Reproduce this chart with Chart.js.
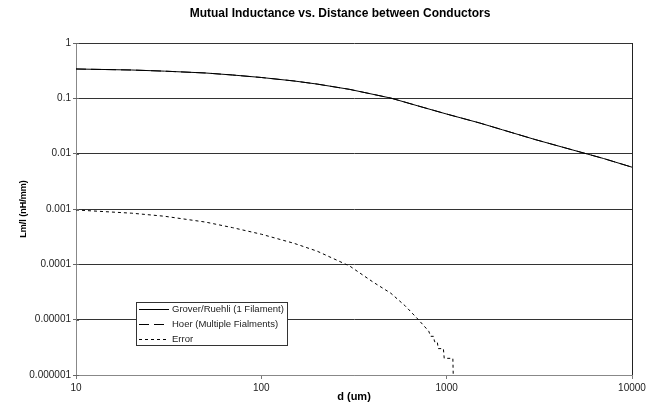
<!DOCTYPE html>
<html>
<head>
<meta charset="utf-8">
<script src="https://cdn.jsdelivr.net/npm/chart.js@4/dist/chart.umd.min.js"></script>
<style>
  html, body { margin: 0; padding: 0; background: #fff; }
  #wrap { width: 658px; height: 406px; }
</style>
</head>
<body>
<div id="wrap"><canvas id="chart" width="658" height="406"></canvas></div>
<script>
const chartTitle = 'Mutual Inductance vs. Distance between Conductors'

// distance d (um) and Lm/l (nH/mm)
const dValues = [10, 20, 30, 50, 70, 100, 150, 200, 300, 500, 700, 1000, 1500, 2000, 3000, 5000, 7000, 10000]
const groverValues = [0.339, 0.325, 0.31, 0.287, 0.264, 0.238, 0.206, 0.181, 0.145, 0.101, 0.073, 0.052, 0.036, 0.027, 0.018, 0.0112, 0.0082, 0.0057]
const hoerValues = [0.339, 0.325, 0.31, 0.287, 0.264, 0.238, 0.206, 0.181, 0.145, 0.101, 0.073, 0.052, 0.036, 0.027, 0.018, 0.0112, 0.0082, 0.0057]

const errorD = [10, 20, 30, 50, 70, 100, 150, 200, 300, 400, 500, 600, 700, 800, 820, 850, 860, 890, 900, 960, 970, 1080, 1085]
const errorValues = [0.00096, 0.00084, 0.00074, 0.00058, 0.00046, 0.00035, 0.00024, 0.000173, 0.000093, 0.000048, 0.00003, 0.0000175, 0.0000102, 0.0000062, 0.000005, 0.000005, 0.000004, 0.000004, 0.000003, 0.000003, 0.000002, 0.000002, 0.000001]

const xTickValues = [10, 100, 1000, 10000]
const xTickLabels = ['10', '100', '1000', '10000']
const yTickValues = [1, 0.1, 0.01, 0.001, 0.0001, 0.00001, 0.000001]
const yTickLabels = ['1', '0.1', '0.01', '0.001', '0.0001', '0.00001', '0.000001']

const FONT = '"Liberation Sans", Arial, sans-serif'

function toPoints(xs, ys) {
  return xs.map((x, i) => ({ x: x, y: ys[i] }))
}

const extras = {
  id: 'extras',
  afterDraw(chart) {
    const ctx = chart.ctx
    const area = chart.chartArea
    ctx.save()

    // right border of plot area
    ctx.strokeStyle = '#222'
    ctx.lineWidth = 1
    ctx.beginPath()
    ctx.moveTo(Math.round(area.right) + 0.5, area.top)
    ctx.lineTo(Math.round(area.right) + 0.5, area.bottom)
    ctx.stroke()

    // y ticks cross the axis a little on the inside too
    const y = chart.scales.y
    ctx.strokeStyle = '#666'
    yTickValues.forEach((v) => {
      const py = Math.round(y.getPixelForValue(v)) + 0.5
      ctx.beginPath()
      ctx.moveTo(area.left, py)
      ctx.lineTo(area.left + 3, py)
      ctx.stroke()
    })

    // title
    ctx.fillStyle = '#000'
    ctx.font = 'bold 12px ' + FONT
    ctx.textAlign = 'center'
    ctx.textBaseline = 'middle'
    ctx.fillText(chartTitle, 340, 14)

    // legend box
    const bx = 136.5, by = 302.5, bw = 151, bh = 43
    ctx.fillStyle = '#fff'
    ctx.fillRect(bx, by, bw, bh)
    ctx.strokeStyle = '#333'
    ctx.strokeRect(bx, by, bw, bh)
    ctx.font = '9.5px ' + FONT
    ctx.textAlign = 'left'
    const rows = [309.5, 324.5, 339.5]
    chart.data.datasets.forEach((ds, i) => {
      ctx.strokeStyle = '#000'
      ctx.setLineDash(ds.borderDash || [])
      ctx.beginPath()
      ctx.moveTo(139, rows[i])
      ctx.lineTo(169, rows[i])
      ctx.stroke()
      ctx.setLineDash([])
      ctx.fillStyle = '#222'
      ctx.fillText(ds.label, 172, rows[i])
    })
    ctx.restore()
  }
}

new Chart(document.getElementById('chart'), {
  type: 'line',
  data: {
    datasets: [
      {
        label: 'Grover/Ruehli (1 Filament)',
        data: toPoints(dValues, groverValues),
        borderColor: '#000',
        borderWidth: 1,
        pointRadius: 0,
        tension: 0,
        order: 1,
      },
      {
        label: 'Hoer (Multiple Fialments)',
        data: toPoints(dValues, hoerValues),
        borderColor: '#000',
        borderWidth: 1,
        borderDash: [10, 5],
        pointRadius: 0,
        tension: 0,
        order: 2,
      },
      {
        label: 'Error',
        data: toPoints(errorD, errorValues),
        borderColor: '#000',
        borderWidth: 1,
        borderDash: [3, 3],
        pointRadius: 0,
        tension: 0,
        order: 3,
      },
    ],
  },
  options: {
    responsive: false,
    animation: false,
    layout: { padding: { top: 43, right: 26, bottom: 0, left: 0 } },
    plugins: {
      legend: { display: false },
      title: { display: false },
      tooltip: { enabled: false },
    },
    scales: {
      x: {
        type: 'logarithmic',
        min: 10,
        max: 10000,
        afterBuildTicks: (scale) => {
          scale.ticks = xTickValues.map((v) => ({ value: v }))
        },
        afterFit: (scale) => {
          scale.height = 31
        },
        ticks: {
          autoSkip: false,
          maxRotation: 0,
          padding: 3,
          color: '#222',
          font: { family: FONT, size: 10 },
          callback: (value, index) => xTickLabels[index],
        },
        grid: { drawOnChartArea: false, tickLength: 4, color: '#777' },
        border: { color: '#888' },
        title: {
          display: true,
          text: 'd (um)',
          color: '#000',
          font: { family: FONT, size: 11, weight: 'bold' },
          padding: { top: 0, bottom: 2 },
        },
      },
      y: {
        type: 'logarithmic',
        min: 0.000001,
        max: 1,
        afterBuildTicks: (scale) => {
          scale.ticks = yTickValues.map((v) => ({ value: v }))
        },
        afterFit: (scale) => {
          scale.width = 76
        },
        ticks: {
          autoSkip: false,
          padding: 2,
          color: '#222',
          font: { family: FONT, size: 10 },
          callback: (value, index) => yTickLabels[index],
        },
        grid: {
          tickLength: 3,
          color: (ctx) => (ctx.tick && ctx.tick.value === 0.000001 ? '#888' : '#333'),
          tickColor: '#666',
        },
        border: { color: '#888' },
        title: {
          display: true,
          text: 'Lm/l (nH/mm)',
          color: '#000',
          font: { family: FONT, size: 9, weight: 'bold' },
          padding: { top: 18, bottom: 0 },
        },
      },
    },
  },
  plugins: [extras],
})
</script>
</body>
</html>
